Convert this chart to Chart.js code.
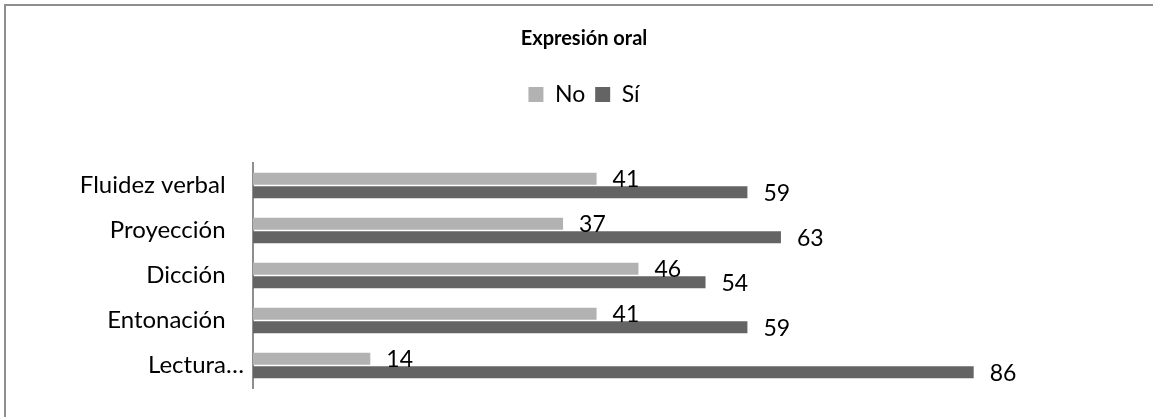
<!DOCTYPE html>
<html>
<head>
<meta charset="utf-8">
<script src="https://cdn.jsdelivr.net/npm/chart.js@4/dist/chart.umd.min.js"></script>
<style>
  body { margin: 0; background: #fff; }
  #wrap { position: relative; width: 1153px; height: 417px; }
  #frame { position: absolute; left: 4px; top: 4px; right: -10px; bottom: -10px;
           border-top: 2px solid #8e8e8e; border-left: 2px solid #8e8e8e; }
  canvas { position: absolute; left: 0; top: 0; }
</style>
</head>
<body>
<div id="wrap">
  <div id="frame"></div>
  <canvas id="myChart" width="1153" height="417"></canvas>
</div>
<script>
// chart data //
var categories = ['Fluidez verbal', 'Proyección', 'Dicción', 'Entonación', 'Lectura…'];
var noValues = [41, 37, 46, 41, 14];
var siValues = [59, 63, 54, 59, 86];
var seriesNames = ['No', 'Sí'];

var FONT = 'Lato, "Open Sans", sans-serif';

// draws the number at the end of every bar
var valueLabels = {
  id: 'valueLabels',
  afterDatasetsDraw: function (chart) {
    var ctx = chart.ctx;
    ctx.save();
    ctx.font = '23px ' + FONT;
    ctx.fillStyle = '#000';
    ctx.textAlign = 'left';
    ctx.textBaseline = 'middle';
    chart.data.datasets.forEach(function (ds, i) {
      chart.getDatasetMeta(i).data.forEach(function (bar, j) {
        ctx.fillText(ds.data[j], bar.x + 16, bar.y + 1);
      });
    });
    ctx.restore();
  }
};

var ctx = document.getElementById('myChart').getContext('2d');
var myChart = new Chart(ctx, {
  type: 'bar',
  data: {
    labels: categories,
    datasets: [{
      label: seriesNames[0],
      data: noValues,
      backgroundColor: '#b2b2b2'
    }, {
      label: seriesNames[1],
      data: siValues,
      backgroundColor: '#646464'
    }]
  },
  options: {
    indexAxis: 'y',
    responsive: false,
    animation: false,
    categoryPercentage: 0.6,
    barPercentage: 0.9,
    layout: { padding: { left: 77, right: 62, top: 0, bottom: 29 } },
    plugins: {
      title: {
        display: true,
        text: 'Expresión oral',
        color: '#000',
        font: { family: FONT, size: 20, weight: 'bold' },
        padding: { top: 27, bottom: 22 }
      },
      legend: {
        display: true,
        labels: {
          color: '#000',
          font: { family: FONT, size: 23 },
          boxWidth: 15,
          boxHeight: 15,
          padding: 10
        }
      },
      tooltip: { enabled: false }
    },
    scales: {
      // only used as empty space between legend and bars
      x: {
        position: 'top',
        min: 0, max: 100,
        grid: { display: false },
        border: { display: false },
        ticks: { display: false },
        afterFit: function (scale) { scale.height = 47; }
      },
      y: {
        grid: { display: false },
        border: { color: '#8e8e8e', width: 2 },
        ticks: {
          color: '#000',
          font: { family: FONT, size: 24 },
          padding: 1,
          callback: function (v, i) {
            var label = categories[i];
            // the short labels sit a bit further from the axis
            return label.endsWith('…') ? label : label + '   ';
          }
        },
        afterFit: function (scale) { scale.width = 176; }
      }
    }
  },
  plugins: [valueLabels]
});
</script>
</body>
</html>
